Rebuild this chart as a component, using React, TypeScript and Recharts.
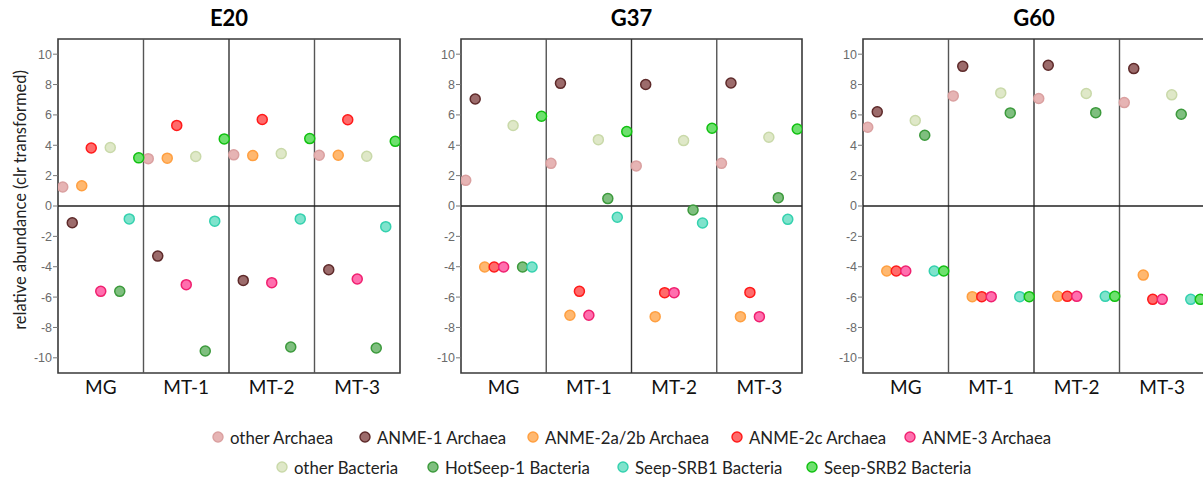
import React from 'react'
import { ScatterChart, Scatter, XAxis, YAxis, ReferenceLine, ReferenceArea } from 'recharts'

const categories = ['MG', 'MT-1', 'MT-2', 'MT-3']
const yTicks = [-10, -8, -6, -4, -2, 0, 2, 4, 6, 8, 10]

const groups = [
  'other Archaea',
  'ANME-1 Archaea',
  'ANME-2a/2b Archaea',
  'ANME-2c Archaea',
  'ANME-3 Archaea',
  'other Bacteria',
  'HotSeep-1 Bacteria',
  'Seep-SRB1 Bacteria',
  'Seep-SRB2 Bacteria',
]

// values per group, one number per category (MG, MT-1, MT-2, MT-3)
const e20 = [
  [1.25, 3.12, 3.37, 3.34],
  [-1.1, -3.3, -4.9, -4.2],
  [1.33, 3.15, 3.32, 3.34],
  [3.82, 5.31, 5.7, 5.68],
  [-5.62, -5.18, -5.05, -4.81],
  [3.85, 3.26, 3.45, 3.28],
  [-5.62, -9.55, -9.29, -9.35],
  [-0.85, -1.0, -0.85, -1.36],
  [3.17, 4.42, 4.44, 4.26],
]

const g37 = [
  [1.69, 2.81, 2.64, 2.81],
  [7.05, 8.08, 8.0, 8.1],
  [-4.02, -7.2, -7.29, -7.29],
  [-4.02, -5.62, -5.71, -5.69],
  [-4.02, -7.2, -5.71, -7.29],
  [5.3, 4.37, 4.31, 4.53],
  [-4.02, 0.49, -0.26, 0.55],
  [-4.02, -0.74, -1.12, -0.88],
  [5.91, 4.9, 5.12, 5.07],
]

const g60 = [
  [5.19, 7.25, 7.08, 6.81],
  [6.2, 9.2, 9.27, 9.05],
  [-4.28, -5.97, -5.95, -4.55],
  [-4.28, -5.97, -5.95, -6.15],
  [-4.28, -5.97, -5.95, -6.15],
  [5.63, 7.45, 7.41, 7.32],
  [4.66, 6.13, 6.15, 6.04],
  [-4.28, -5.97, -5.95, -6.15],
  [-4.28, -5.97, -5.95, -6.15],
]

const FILLS = ['#e6b4b4', '#9c6b6b', '#ffb870', '#ff6b6b', '#ff6fae', '#dfe8c8', '#7fbf7f', '#7fe3cc', '#6ee06e']
const STROKES = ['#daa0a0', '#5e2a2a', '#ff9f40', '#ff1a1a', '#f0206f', '#c9d9a9', '#3c9a3c', '#34d1ae', '#10c010']

const FONT = 'Lato, "Open Sans", sans-serif'

function dodge(values: number[], g: number) {
  return values.map((v, c) => ({ x: c + (g - 4) / 9, y: v, cat: categories[c] }))
}

interface PanelProps {
  title: string
  data: number[][]
  left: number
  width: number
  axisWidth: number
  showLabel?: boolean
}

function Panel({ title, data, left, width, axisWidth, showLabel }: PanelProps) {
  const plotLeft = left + axisWidth
  const plotWidth = width - axisWidth - 2
  return (
    <>
      <div
        style={{
          position: 'absolute',
          left: plotLeft,
          width: plotWidth,
          top: 4,
          textAlign: 'center',
          fontFamily: FONT,
          fontWeight: 700,
          fontSize: 22,
          color: '#000',
        }}
      >
        {title}
      </div>
      <div style={{ position: 'absolute', left, top: 0 }}>
        <ScatterChart width={width} height={400} margin={{ top: 39, right: 2, bottom: 0, left: 0 }}>
          <XAxis
            type="number"
            dataKey="x"
            domain={[-0.5, 3.5]}
            ticks={[0, 1, 2, 3]}
            tickFormatter={(v: number) => categories[v]}
            axisLine={false}
            tickLine={false}
            height={27}
            tickMargin={2}
            tick={{ fontSize: 19, fill: '#111', fontFamily: FONT }}
            allowDataOverflow
          />
          <YAxis
            type="number"
            dataKey="y"
            domain={[-11, 11]}
            ticks={yTicks}
            width={axisWidth}
            axisLine={false}
            tickSize={5}
            tickMargin={1}
            tickLine={{ stroke: '#777' }}
            tick={{ fontSize: 12.5, fill: '#6b6b6b', fontFamily: 'Liberation Sans, Arial, sans-serif' }}
            allowDataOverflow
          />
          <ReferenceArea x1={-0.5} x2={3.5} y1={-11} y2={11} fill="none" stroke="#3a3a3a" strokeWidth={1.6} />
          <ReferenceLine x={0.5} stroke="#555" strokeWidth={1.4} />
          <ReferenceLine x={1.5} stroke="#333" strokeWidth={1.4} />
          <ReferenceLine x={2.5} stroke="#555" strokeWidth={1.4} />
          <ReferenceLine y={0} stroke="#222" strokeWidth={1.6} />
          {groups.map((g, i) => (
            <Scatter
              key={g}
              name={g}
              data={dodge(data[i], i)}
              isAnimationActive={false}
              shape={(p: any) => (
                <circle cx={p.cx} cy={p.cy} r={5} fill={FILLS[i]} stroke={STROKES[i]} strokeWidth={1.5} />
              )}
            />
          ))}
        </ScatterChart>
      </div>
      {showLabel && (
        <div
          style={{
            position: 'absolute',
            left: 20,
            top: 200,
            transform: 'translate(-50%, -50%) rotate(-90deg)',
            whiteSpace: 'nowrap',
            fontFamily: FONT,
            fontSize: 16.5,
            color: '#222',
          }}
        >
          relative abundance (clr transformed)
        </div>
      )}
    </>
  )
}

// legend item anchors (circle centre x) for the two rows
const legendRows = [
  { y: 437, items: [0, 1, 2, 3, 4], xs: [218, 365, 533, 737, 910] },
  { y: 467, items: [5, 6, 7, 8], xs: [282, 433, 623, 812] },
]

function Legend() {
  return (
    <>
      {legendRows.map((row) =>
        row.items.map((gi, k) => (
          <div
            key={gi}
            style={{
              position: 'absolute',
              left: row.xs[k] - 6,
              top: row.y - 11,
              height: 22,
              display: 'flex',
              alignItems: 'center',
              whiteSpace: 'nowrap',
              fontFamily: FONT,
              fontSize: 16.8,
              color: '#222',
            }}
          >
            <svg width={12} height={12} style={{ marginRight: 6 }}>
              <circle cx={6} cy={6} r={5} fill={FILLS[gi]} stroke={STROKES[gi]} strokeWidth={1.4} />
            </svg>
            {groups[gi]}
          </div>
        ))
      )}
    </>
  )
}

export default function App() {
  return (
    <div
      style={{
        position: 'fixed',
        left: 0,
        top: 0,
        width: 1203,
        height: 477,
        background: '#fff',
        overflow: 'hidden',
      }}
    >
      <Panel title="E20" data={e20} left={0} width={402} axisWidth={58} showLabel />
      <Panel title="G37" data={g37} left={410} width={394} axisWidth={51} />
      <Panel title="G60" data={g60} left={812} width={395} axisWidth={51} />
      <Legend />
    </div>
  )
}
